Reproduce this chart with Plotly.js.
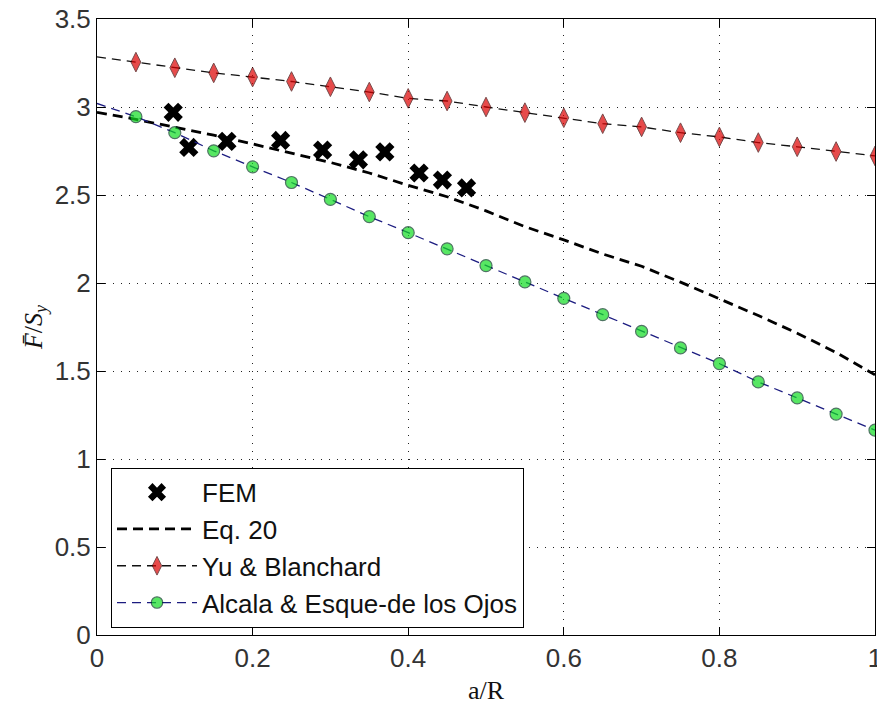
<!DOCTYPE html>
<html>
<head>
<meta charset="utf-8">
<script src="https://cdn.plot.ly/plotly-3.0.1.min.js"></script>
<style>html,body{margin:0;padding:0;background:#fff;}#chart{width:877px;height:711px;}</style>
</head>
<body>
<div id="chart"></div>
<script>
// ---- data ----
var femX = [0.098, 0.118, 0.167, 0.236, 0.290, 0.336, 0.370, 0.414, 0.444, 0.475];
var femY = [2.97, 2.77, 2.805, 2.81, 2.755, 2.70, 2.745, 2.625, 2.585, 2.54];

var curveX = [0, 0.05, 0.1, 0.15, 0.2, 0.25, 0.3, 0.35, 0.4, 0.45, 0.5,
              0.55, 0.6, 0.65, 0.7, 0.75, 0.8, 0.85, 0.9, 0.95, 1.0];
var eq20Y = [2.97, 2.93, 2.885, 2.84, 2.79, 2.738, 2.685, 2.625, 2.555, 2.49, 2.41,
             2.32, 2.245, 2.165, 2.095, 2.005, 1.91, 1.815, 1.715, 1.605, 1.478];
var yuY = [3.285, 3.255, 3.223, 3.194, 3.17, 3.145, 3.115, 3.085, 3.049, 3.034, 3.0,
           2.968, 2.939, 2.905, 2.887, 2.854, 2.83, 2.798, 2.774, 2.747, 2.722];
var alcalaY = [3.02, 2.945, 2.854, 2.751, 2.66, 2.571, 2.475, 2.377, 2.286, 2.194, 2.099,
               2.006, 1.913, 1.82, 1.725, 1.631, 1.542, 1.438, 1.347, 1.255, 1.164];

var xTickVals = [0, 0.2, 0.4, 0.6, 0.8, 1];
var xTickText = ["0", "0.2", "0.4", "0.6", "0.8", "1"];
var yTickVals = [0, 0.5, 1, 1.5, 2, 2.5, 3, 3.5];
var yTickText = ["0", "0.5", "1", "1.5", "2", "2.5", "3", "3.5"];

var seriesNames = ["FEM", "Eq. 20", "Yu & Blanchard", "Alcala & Esque-de los Ojos"];

// markers are drawn at every point except x = 0
var markerSizes = function (sz) { return curveX.map(function (x, i) { return i === 0 ? 0 : sz; }); };

var traces = [
  {
    x: femX, y: femY, name: seriesNames[0], type: 'scatter', mode: 'markers',
    marker: { symbol: 'x', size: 17, color: '#000', line: { width: 0 } }
  },
  {
    x: curveX, y: eq20Y, name: seriesNames[1], type: 'scatter', mode: 'lines',
    line: { color: '#000', width: 2.8, dash: '10px,6px' }
  },
  {
    x: curveX, y: yuY, name: seriesNames[2], type: 'scatter', mode: 'lines+markers',
    line: { color: '#111', width: 1.3, dash: '9px,6px' },
    marker: { symbol: 'diamond-tall', size: markerSizes(14), color: '#dd0000',
              line: { color: '#400000', width: 1 } }
  },
  {
    x: curveX, y: alcalaY, name: seriesNames[3], type: 'scatter', mode: 'lines+markers',
    line: { color: '#1c1c80', width: 1.3, dash: '9px,6px' },
    marker: { symbol: 'circle', size: markerSizes(12), color: '#11dd22',
              line: { color: '#053a22', width: 1.2 } }
  }
];

var axisCommon = {
  showline: true, linecolor: '#000', linewidth: 1, mirror: 'allticks',
  ticks: 'inside', ticklen: 8, tickcolor: '#000', tickwidth: 1,
  showgrid: true, gridcolor: '#222', gridwidth: 1, griddash: '1px,7px',
  zeroline: false, ticklabeloverflow: 'allow',
  tickfont: { family: 'Liberation Sans, Arial, sans-serif', size: 26, color: '#333' }
};

var layout = {
  width: 877, height: 711,
  margin: { l: 97, r: 2, t: 19, b: 76 },
  paper_bgcolor: '#fff', plot_bgcolor: '#fff',
  showlegend: true,
  xaxis: Object.assign({}, axisCommon, {
    range: [0, 1], tickmode: 'array', tickvals: xTickVals, ticktext: xTickText,
    title: { text: 'a/R', font: { family: 'Liberation Serif, serif', size: 26, color: '#111' }, standoff: 8 }
  }),
  yaxis: Object.assign({}, axisCommon, {
    range: [0, 3.5], tickmode: 'array', tickvals: yTickVals, ticktext: yTickText,
    title: { text: '<i>F\u0304</i>/<i>S<sub>y</sub></i>', font: { family: 'Liberation Serif, serif', size: 26, color: '#111' }, standoff: 4 }
  }),
  legend: {
    x: 0.018, y: 0.2715, xanchor: 'left', yanchor: 'top',
    bgcolor: '#fff', bordercolor: '#000', borderwidth: 1,
    font: { family: 'Liberation Sans, Arial, sans-serif', size: 26, color: '#111' },
    itemwidth: 80, tracegroupgap: 0
  }
};

Plotly.newPlot('chart', traces, layout, { displayModeBar: false, staticPlot: true });
</script>
</body>
</html>
